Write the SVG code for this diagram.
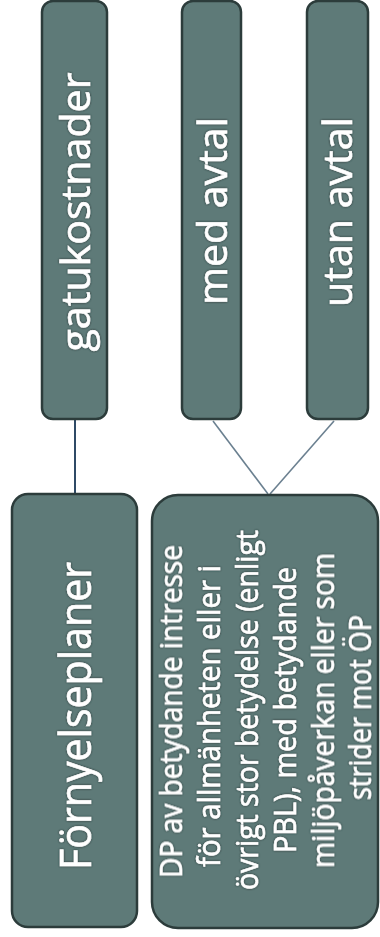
<svg xmlns="http://www.w3.org/2000/svg" width="380" height="937" viewBox="0 0 380 937">
<defs>
<filter id="sh" x="-10%" y="-30%" width="120%" height="160%">
<feDropShadow dx="0" dy="0" stdDeviation="0.8" flood-color="#1e2b2a" flood-opacity="0.9"/>
</filter>
</defs>
<style>
.box{fill:#5e7a78;stroke:#2c3c3b;stroke-width:2.5}
.t{fill:#ffffff;stroke:#ffffff;stroke-width:0.6;font-family:"Open Sans","Noto Sans",sans-serif;text-anchor:middle;filter:url(#sh)}
.big{font-size:40px}
.small{font-size:31px}
.con{fill:none;stroke:#6b8090;stroke-width:1.6}
</style>
<rect x="0" y="0" width="380" height="937" fill="#ffffff"/>
<g id="connectors">
<line class="con" x1="75" y1="420" x2="75" y2="494" style="stroke:#2f4a66;stroke-width:2"/>
<line class="con" x1="213" y1="421" x2="268" y2="494"/>
<line class="con" x1="334" y1="421" x2="270" y2="494"/>
</g>
<g id="gatukostnader">
<rect class="box" x="42" y="1" width="65" height="418" rx="11"/>
<text class="t big" transform="translate(90,212) rotate(-90)" textLength="279" lengthAdjust="spacingAndGlyphs">gatukostnader</text>
</g>
<g id="med-avtal">
<rect class="box" x="182" y="1" width="59" height="418" rx="11"/>
<text class="t big" transform="translate(227,211) rotate(-90)" textLength="188" lengthAdjust="spacingAndGlyphs">med avtal</text>
</g>
<g id="utan-avtal">
<rect class="box" x="307" y="1" width="61" height="418" rx="11"/>
<text class="t big" transform="translate(352,212) rotate(-90)" textLength="190" lengthAdjust="spacingAndGlyphs">utan avtal</text>
</g>
<g id="fornyelseplaner">
<rect class="box" x="12" y="494" width="125" height="433" rx="16"/>
<text class="t big" style="font-size:43px" transform="translate(91,716) rotate(-90)" textLength="308" lengthAdjust="spacingAndGlyphs">Förnyelseplaner</text>
</g>
<g id="dp">
<rect class="box" x="152" y="495" width="226" height="433" rx="26"/>
<text class="t small" transform="translate(182,711.5) rotate(-90)" textLength="333" lengthAdjust="spacingAndGlyphs">DP av betydande intresse</text>
<text class="t small" transform="translate(220,716) rotate(-90)" textLength="302" lengthAdjust="spacingAndGlyphs">för allmänheten eller i</text>
<text class="t small" transform="translate(258,710) rotate(-90)" textLength="360" lengthAdjust="spacingAndGlyphs">övrigt stor betydelse (enligt</text>
<text class="t small" transform="translate(296,710) rotate(-90)" textLength="286" lengthAdjust="spacingAndGlyphs">PBL), med betydande</text>
<text class="t small" transform="translate(334,710.5) rotate(-90)" textLength="315" lengthAdjust="spacingAndGlyphs">miljöpåverkan eller som</text>
<text class="t small" transform="translate(371,707.5) rotate(-90)" textLength="185" lengthAdjust="spacingAndGlyphs">strider mot ÖP</text>
</g>
</svg>
